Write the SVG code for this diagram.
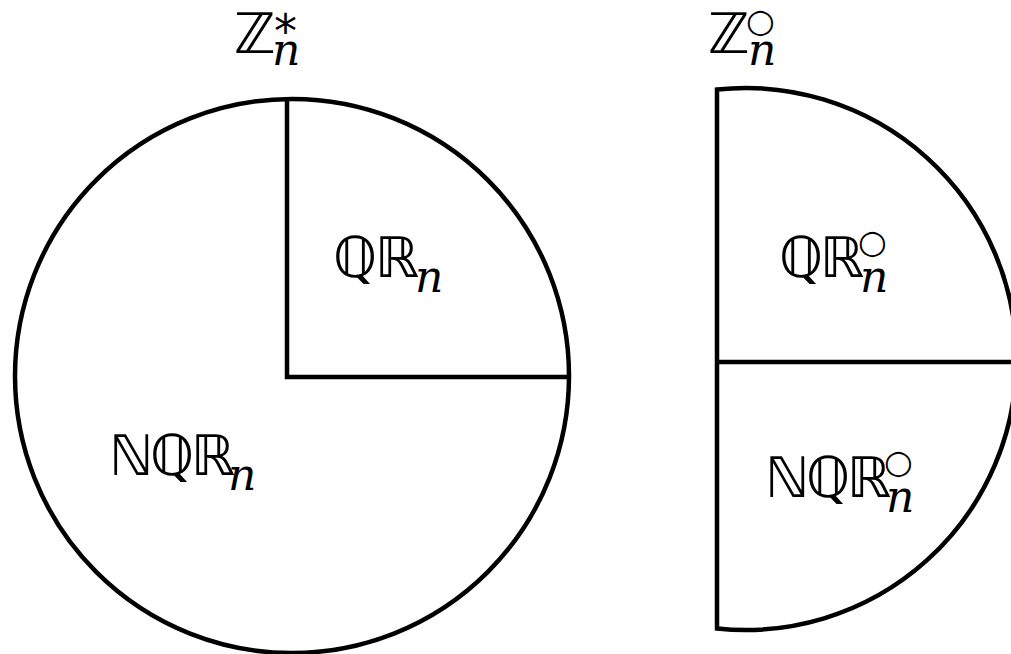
<svg xmlns="http://www.w3.org/2000/svg" width="1011" height="654" viewBox="0 0 1011 654">
<style>
.s{fill:none;stroke:#000;stroke-width:4.5;stroke-linejoin:miter}
.bb{font-family:"DejaVu Sans",sans-serif;font-size:56px;fill:#000}
.it{font-family:"DejaVu Serif",serif;font-style:italic;font-size:44px;fill:#000}
.ast{font-family:"DejaVu Sans",sans-serif;font-size:46px;fill:#000}
.ring{font-family:"DejaVu Sans",sans-serif;font-size:33px;fill:#000}
</style>
<rect width="1011" height="654" fill="#fff"/>
<g id="left-set">
<circle class="s" cx="292" cy="376" r="277"/>
</g>
<g id="right-set">
<path class="s" d="M717 89.5 A271 271 0 1 1 717 628.5 Z"/>
</g>
<g id="connectors">
<path class="s" d="M287 99 V377 H569"/>
<path class="s" d="M717 362 H1011"/>
</g>
<g id="label-Zstar">
<text class="bb" x="234" y="53">ℤ</text>
<text class="ast" x="274" y="47">*</text>
<text class="it" x="272" y="65">n</text>
</g>
<g id="label-Zcirc">
<text class="bb" x="708" y="53">ℤ</text>
<text class="ring" x="746" y="32">○</text>
<text class="it" x="748" y="65">n</text>
</g>
<g id="label-QR">
<text class="bb" x="333" y="277">ℚ<tspan x="375">ℝ</tspan></text>
<text class="it" x="415" y="292">n</text>
</g>
<g id="label-NQR">
<text class="bb" x="109" y="475">ℕ<tspan x="150">ℚ</tspan><tspan x="191">ℝ</tspan></text>
<text class="it" x="228" y="490">n</text>
</g>
<g id="label-QRcirc">
<text class="bb" x="779" y="277">ℚ<tspan x="820">ℝ</tspan></text>
<text class="ring" x="858" y="253">○</text>
<text class="it" x="860" y="292">n</text>
</g>
<g id="label-NQRcirc">
<text class="bb" x="765" y="497">ℕ<tspan x="806">ℚ</tspan><tspan x="847">ℝ</tspan></text>
<text class="ring" x="884" y="473">○</text>
<text class="it" x="886" y="512">n</text>
</g>
</svg>
